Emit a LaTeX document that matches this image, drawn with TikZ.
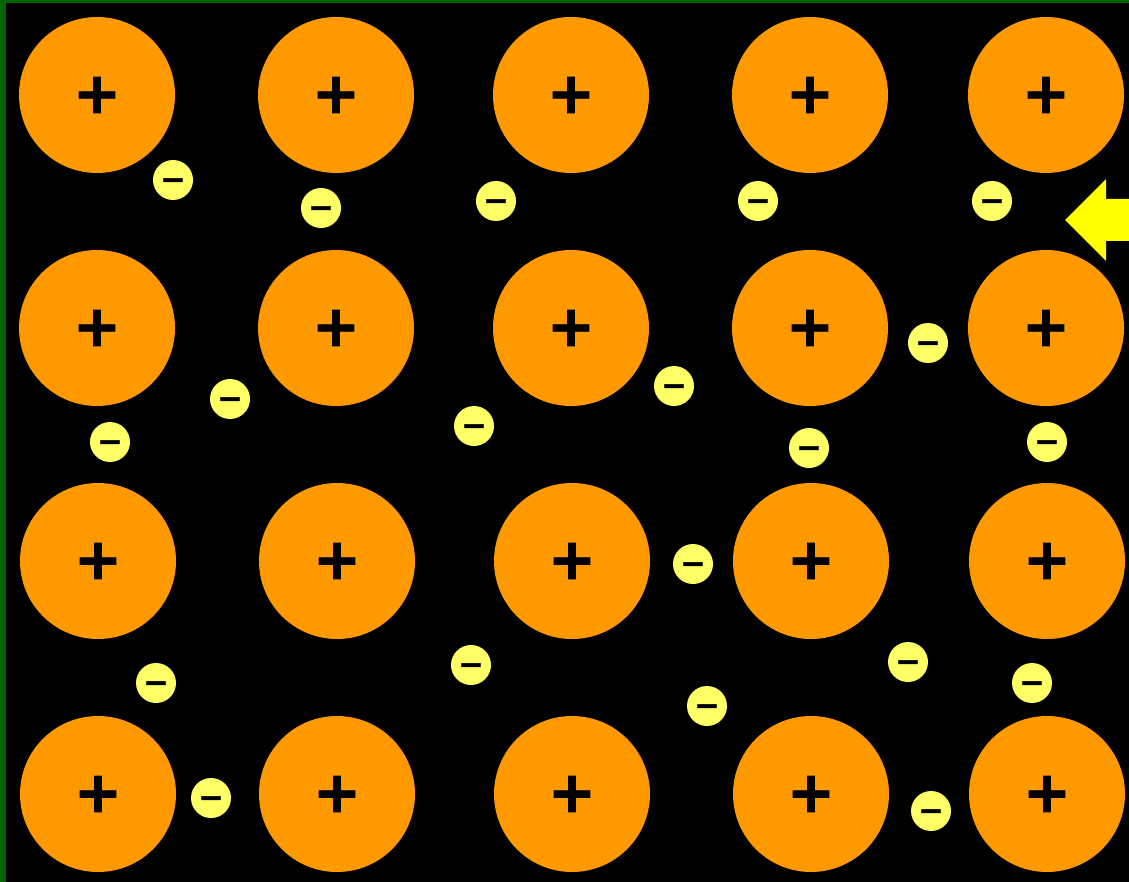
\documentclass[tikz,border=0pt]{standalone}
\usepackage{fontspec}
\newfontfamily\symfont[FakeBold=1.6]{DejaVu Sans Bold}
\definecolor{bggreen}{HTML}{006400}
\definecolor{ion}{HTML}{FF9900}
\definecolor{elec}{HTML}{FFFF66}
\definecolor{arrowyel}{HTML}{FFFF00}
\tikzset{
  ionnode/.style={circle, fill=ion, minimum size=156pt, inner sep=0pt,
    font=\symfont\fontsize{57}{57}\selectfont, text=black},
  elecnode/.style={circle, fill=elec, minimum size=40pt, inner sep=0pt,
    font=\symfont\fontsize{30}{30}\selectfont, text=black,
    text height=18.9pt, text depth=0pt},
}
\begin{document}
\begin{tikzpicture}[x=1pt,y=-1pt]
\useasboundingbox (0,0) rectangle (1129,882);
\fill[black] (0,0) rectangle (1129,882);
\fill[bggreen] (0,0) rectangle (1129,3);
\fill[bggreen] (0,0) rectangle (6,882);
% ions
\foreach \r/\yy/\dx in {1/95/0,2/328/0,3/561/1,4/794/1}{
  \foreach \c/\xx in {1/97,2/336,3/571,4/810,5/1046}{
    \node[ionnode] (ion\r\c) at (\xx+\dx,\yy) {+};
  }
}
% electrons
\foreach \n/\xx/\yy in {1/173/180,2/321/208,3/496/201,4/758/201,5/992/201,
  6/230/399,7/110/442,8/474/426,9/674/386,10/928/343,11/809/448,12/1047/442,
  13/693/564,14/471/665,15/156/683,16/908/662,17/1032/683,18/707/706,
  19/211/798,20/931/811}{
  \node[elecnode] (e\n) at (\xx,\yy) {−};
}
% arrow
\fill[arrowyel] (1129,199) -- (1106,199) -- (1106,179) -- (1065,220)
  -- (1106,261) -- (1106,241) -- (1129,241) -- cycle;
\end{tikzpicture}
\end{document}
